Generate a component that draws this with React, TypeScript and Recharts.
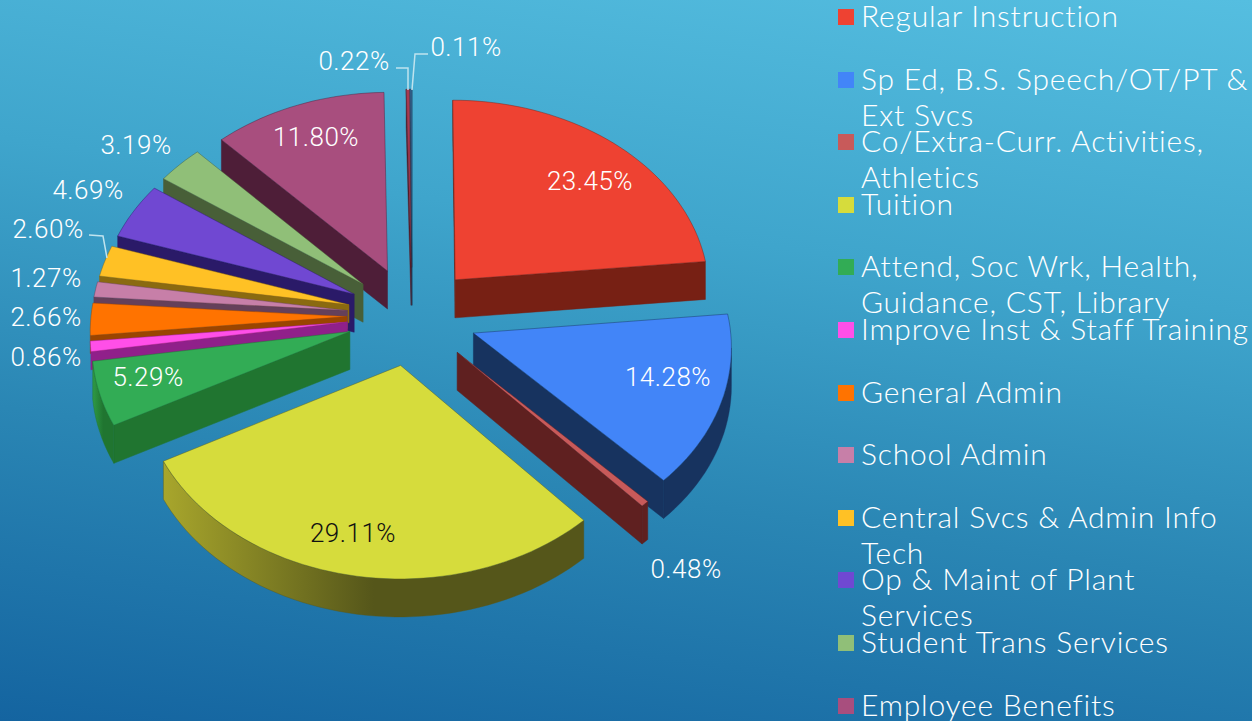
import React from "react";
import { PieChart, Pie, Legend } from "recharts";

const categories = [
  "Regular Instruction",
  "Sp Ed, B.S. Speech/OT/PT & Ext Svcs",
  "Co/Extra-Curr. Activities, Athletics",
  "Tuition",
  "Attend, Soc Wrk, Health, Guidance, CST, Library",
  "Improve Inst & Staff Training",
  "General Admin",
  "School Admin",
  "Central Svcs & Admin Info Tech",
  "Op & Maint of Plant Services",
  "Student Trans Services",
  "Employee Benefits",
  "Debt Service",
  "Transfers",
];
const values = [23.45, 14.28, 0.48, 29.11, 5.29, 0.86, 2.66, 1.27, 2.6, 4.69, 3.19, 11.8, 0.22, 0.11];
const legendLines = [
  ["Regular Instruction"],
  ["Sp Ed, B.S. Speech/OT/PT &", "Ext Svcs"],
  ["Co/Extra-Curr. Activities,", "Athletics"],
  ["Tuition"],
  ["Attend, Soc Wrk, Health,", "Guidance, CST, Library"],
  ["Improve Inst & Staff Training"],
  ["General Admin"],
  ["School Admin"],
  ["Central Svcs & Admin Info", "Tech"],
  ["Op & Maint of Plant", "Services"],
  ["Student Trans Services"],
  ["Employee Benefits"],
];
const topColors = ["#EE4232", "#4285F8", "#C85A5A", "#D6DC3C", "#32AC55", "#FF4FE8", "#FF7300", "#C77FA8", "#FFC125", "#7048D2", "#90BF78", "#A84E7E", "#A83A50", "#3A6EA0"];
const wallColors = ["#772014", "#17335F", "#5F2020", "#5F601A", "#207530", "#90208A", "#9A4500", "#65405A", "#8A6A10", "#2A1A68", "#485F38", "#4E1E38", "#541D28", "#1D3750"];
const rimLight = ["#772014", "#17335F", "#5F2020", "#A8A62C", "#2F9A45", "#90208A", "#9A4500", "#65405A", "#8A6A10", "#2A1A68", "#485F38", "#4E1E38", "#541D28", "#1D3750"];
const rimDark = ["#772014", "#17335F", "#5F2020", "#55561A", "#207530", "#90208A", "#9A4500", "#65405A", "#8A6A10", "#2A1A68", "#485F38", "#4E1E38", "#541D28", "#1D3750"];
const hiddenRims = [5, 6, 7, 8, 9, 10, 11];
const shallowWalls = [5, 6, 7, 8];

const data = categories.map((name, i) => ({ name, value: values[i], idx: i }));
const paintOrder = [13, 12, 11, 10, 9, 8, 7, 6, 5, 4, 0, 1, 2, 3];

const CX = 412, CY = 316, R = 256, TILT = 0.76, PERSP = 0.06, EXPLODE = 65, DEPTH = 38, SHALLOW = 18;
const labelPos: Record<number, [number, number]> = {
  0: [590, 181], 1: [668, 377], 2: [686, 569], 3: [353, 533], 4: [148, 377], 5: [46, 357], 6: [46, 317],
  7: [46, 278], 8: [48, 229], 9: [88, 190], 10: [136, 145], 11: [316, 137], 12: [354, 61], 13: [466, 47],
};
const leaders: Record<number, string> = {
  8: "89,235 103,236 107,258",
  12: "396,68 408,68 408,90",
  13: "428,54 415,54 412,90",
};

type P = { x: number; y: number };
function project(cx: number, cy: number, wx: number, wz: number): P {
  const f = 1 / (1 + (PERSP * wz) / R);
  return { x: cx + wx * f, y: cy - wz * TILT * f };
}
const pts = (a: P[]) => a.map((p) => `${p.x.toFixed(1)},${p.y.toFixed(1)}`).join(" ");

function sliceShape(only: number) {
  return (props: any) => {
    const { cx, cy, outerRadius, startAngle, endAngle, midAngle, idx } = props;
    if (idx !== only) return <g />;
    const depth = shallowWalls.includes(only) ? SHALLOW : DEPTH;
    const dn = (p: P): P => ({ x: p.x, y: p.y + depth });
    const rad = Math.PI / 180;
    const th0 = (90 - startAngle) * rad;
    const th1 = (90 - endAngle) * rad;
    const thm = (90 - midAngle) * rad;
    const ox = EXPLODE * Math.sin(thm);
    const oz = EXPLODE * Math.cos(thm);
    const apex = project(cx, cy, ox, oz);
    const n = Math.max(2, Math.ceil(Math.abs(th1 - th0) / (2 * rad)));
    const arc: P[] = [];
    for (let i = 0; i <= n; i++) {
      const t = th0 + ((th1 - th0) * i) / n;
      arc.push(project(cx, cy, ox + outerRadius * Math.sin(t), oz + outerRadius * Math.cos(t)));
    }
    const walls: P[][] = [];
    if (arc[0].x < apex.x) walls.push([apex, arc[0], dn(arc[0]), dn(apex)]);
    if (apex.x < arc[n].x) walls.push([arc[n], apex, dn(apex), dn(arc[n])]);
    const rims: P[][] = [];
    let run: P[] = [];
    for (let i = 0; i < n; i++) {
      if (arc[i + 1].x < arc[i].x) {
        if (!run.length) run.push(arc[i]);
        run.push(arc[i + 1]);
      } else if (run.length) {
        rims.push(run);
        run = [];
      }
    }
    if (run.length) rims.push(run);
    const gid = `rim-${only}`;
    const top = [apex, ...arc];
    const showRims = hiddenRims.includes(only) ? [] : rims;
    return (
      <g>
        <defs>
          <linearGradient id={gid} x1="0" y1="0" x2="1" y2="0">
            <stop offset="0%" stopColor={rimLight[only]} />
            <stop offset="50%" stopColor={rimDark[only]} />
            <stop offset="100%" stopColor={rimDark[only]} />
          </linearGradient>
        </defs>
        {walls.map((w, i) => (
          <polygon key={i} points={pts(w)} fill={wallColors[only]} stroke={wallColors[only]} strokeWidth={0.5} />
        ))}
        {showRims.map((r, i) => (
          <polygon key={i} points={pts([...r, ...r.map(dn).reverse()])} fill={`url(#${gid})`} stroke={rimDark[only]} strokeWidth={0.4} />
        ))}
        <polygon points={pts(top)} fill={topColors[only]} stroke={wallColors[only]} strokeOpacity={0.6} strokeWidth={0.75} />
      </g>
    );
  };
}

function renderLabel(props: any) {
  const i = props.idx as number;
  const [x, y] = labelPos[i];
  return (
    <g key={i}>
      {leaders[i] && <polyline points={leaders[i]} fill="none" stroke="#BFE3EE" strokeWidth={1.5} />}
      <text x={x} y={y} textAnchor="middle" dominantBaseline="central" fontFamily="Roboto" fontWeight={300} fontSize={26} letterSpacing={0.5} fill={i === 3 ? "#111111" : "#FFFFFF"}>
        {values[i].toFixed(2)}%
      </text>
    </g>
  );
}

function LegendBox() {
  return (
    <div style={{ position: "absolute", left: 0, top: 0, width: 1252, height: 721, pointerEvents: "none" }}>
      {legendLines.map((lines, i) => (
        <div key={i} style={{ position: "absolute", left: 838, top: -3 + 62.6 * i, whiteSpace: "nowrap" }}>
          <div style={{ position: "absolute", left: 0, top: 12, width: 16, height: 16, background: topColors[i] }} />
          {lines.map((t) => (
            <div key={t} style={{ marginLeft: 23, fontFamily: "Lato", fontWeight: 300, fontSize: 30, lineHeight: "36px", letterSpacing: 0.8, color: "#FFFFFF" }}>
              {t}
            </div>
          ))}
        </div>
      ))}
    </div>
  );
}

export default function App() {
  return (
    <div style={{ position: "fixed", left: 0, top: 0, width: 1252, height: 721, overflow: "hidden", background: "linear-gradient(188deg, #55BEE0 0%, #3FA5CC 35%, #2A86B4 65%, #1464A0 100%)" }}>
      <PieChart width={1252} height={721} margin={{ top: 0, right: 0, bottom: 0, left: 0 }}>
        {paintOrder.map((i) => (
          <Pie key={i} data={data} dataKey="value" nameKey="name" cx={CX} cy={CY} innerRadius={0} outerRadius={R} startAngle={90} endAngle={-270} stroke="none" isAnimationActive={false} legendType="none" shape={sliceShape(i)} />
        ))}
        <Pie data={data} dataKey="value" nameKey="name" cx={CX} cy={CY} outerRadius={R} startAngle={90} endAngle={-270} isAnimationActive={false} legendType="none" shape={() => <g />} label={renderLabel} labelLine={false} />
        <Legend content={() => <LegendBox />} wrapperStyle={{ left: 0, top: 0, width: 1252, height: 721 }} />
      </PieChart>
    </div>
  );
}
